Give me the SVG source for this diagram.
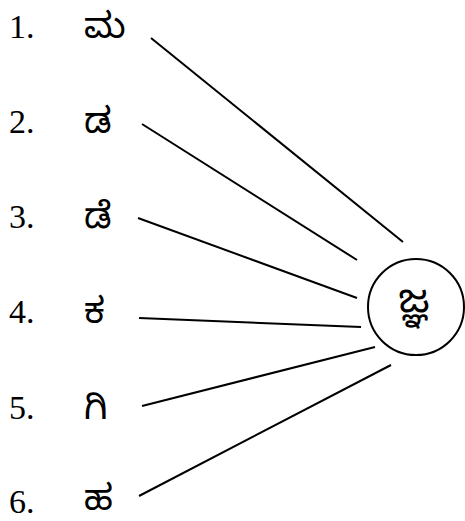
<svg xmlns="http://www.w3.org/2000/svg" width="465" height="521" viewBox="0 0 465 521">
<style>
.num{font-family:"Liberation Serif","Times New Roman",serif;font-size:34px;fill:#000}
.kn{font-family:"Noto Sans Kannada","Noto Serif Kannada","Tunga",serif;font-size:36px;fill:#000}
.kc{font-family:"Noto Sans Kannada","Noto Serif Kannada","Tunga",serif;font-size:40px;fill:#000}
.ln{stroke:#000;stroke-width:2;fill:none}
</style>
<rect width="465" height="521" fill="#fff"/>
<g id="connectors">
<line class="ln" x1="151" y1="38" x2="403" y2="242"/>
<line class="ln" x1="142" y1="124" x2="357" y2="260"/>
<line class="ln" x1="138" y1="218" x2="357" y2="298"/>
<line class="ln" x1="139" y1="318" x2="361" y2="327"/>
<line class="ln" x1="142" y1="406" x2="375" y2="347"/>
<line class="ln" x1="139" y1="496" x2="391" y2="365"/>
</g>
<g id="item1"><text class="num" x="9" y="38">1.</text><text class="kn" x="84" y="38">ಮ</text></g>
<g id="item2"><text class="num" x="9" y="133">2.</text><text class="kn" x="84" y="133">ಡ</text></g>
<g id="item3"><text class="num" x="9" y="228">3.</text><text class="kn" x="84" y="228">ಡೆ</text></g>
<g id="item4"><text class="num" x="9" y="323">4.</text><text class="kn" x="84" y="323">ಕ</text></g>
<g id="item5"><text class="num" x="9" y="419">5.</text><text class="kn" x="84" y="419">ಗಿ</text></g>
<g id="item6"><text class="num" x="9" y="513">6.</text><text class="kn" x="84" y="510">ಹ</text></g>
<g id="center"><circle cx="416" cy="307" r="48" fill="#fff" stroke="#000" stroke-width="2"/><text class="kc" x="414" y="312" text-anchor="middle">ಜ್ಞ</text></g>
</svg>
